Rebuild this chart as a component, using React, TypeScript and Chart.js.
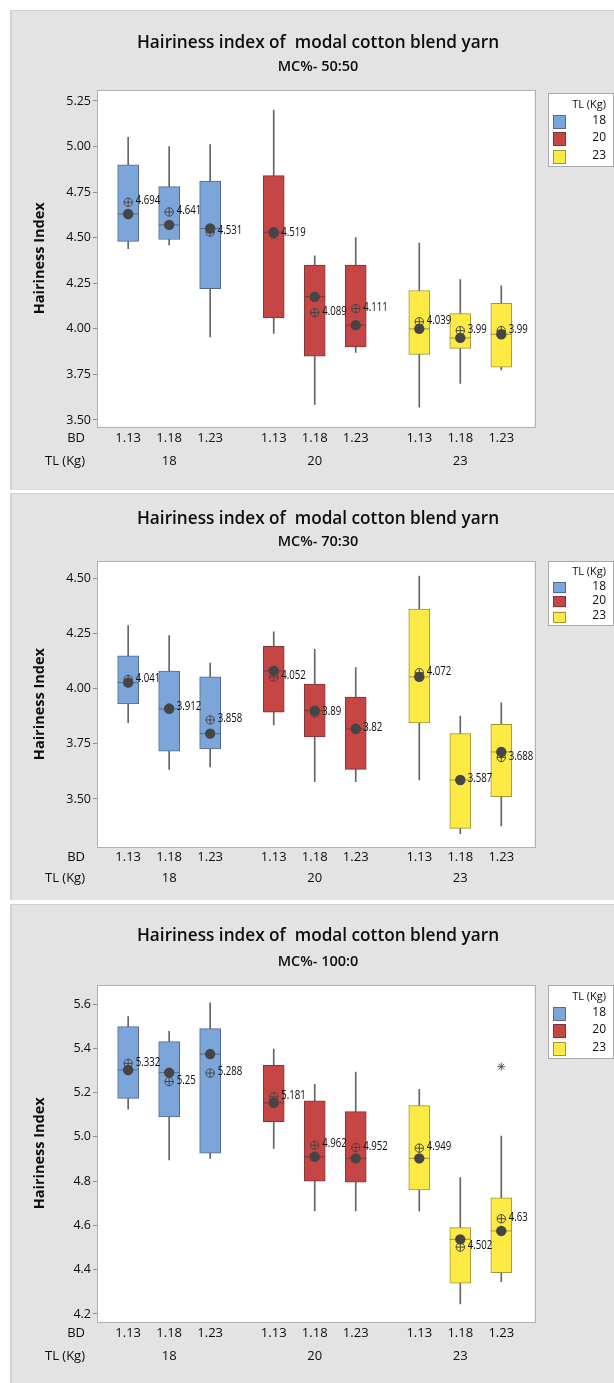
import React, { useEffect, useRef } from 'react';
import { Chart, registerables } from 'chart.js';

Chart.register(...registerables);

// ---------- shared categories ----------
const CHART_TITLE = 'Hairiness index of  modal cotton blend yarn';
const Y_TITLE = 'Hairiness Index';
const TL_LEVELS = ['18', '20', '23'];
const BD_LEVELS = ['1.13', '1.18', '1.23'];
const LEGEND_TITLE = 'TL (Kg)';

// cells ordered: TL18 (BD 1.13, 1.18, 1.23), TL20 (...), TL23 (...)

// ---------- MC%- 50:50 ----------
const mc5050WhiskerLow = [4.44, 4.46, 3.955, 3.975, 3.585, 3.87, 3.57, 3.7, 3.775];
const mc5050Q1 = [4.48, 4.49, 4.22, 4.06, 3.85, 3.9, 3.86, 3.893, 3.79];
const mc5050Median = [4.63, 4.57, 4.55, 4.53, 4.176, 4.02, 4.0, 3.95, 3.97];
const mc5050Q3 = [4.9, 4.78, 4.81, 4.84, 4.35, 4.35, 4.21, 4.083, 4.14];
const mc5050WhiskerHigh = [5.05, 5.0, 5.01, 5.2, 4.4, 4.5, 4.47, 4.27, 4.236];
const mc5050Mean = [4.694, 4.641, 4.531, 4.519, 4.089, 4.111, 4.039, 3.99, 3.99];
const mc5050OutlierCells: number[] = [];
const mc5050OutlierValues: number[] = [];
const mc5050YTicks = [3.5, 3.75, 4.0, 4.25, 4.5, 4.75, 5.0, 5.25];

// ---------- MC%- 70:30 ----------
const mc7030WhiskerLow = [3.846, 3.634, 3.645, 3.835, 3.578, 3.578, 3.586, 3.343, 3.378];
const mc7030Q1 = [3.93, 3.717, 3.727, 3.893, 3.781, 3.634, 3.844, 3.367, 3.51];
const mc7030Median = [4.027, 3.908, 3.796, 4.08, 3.9, 3.817, 4.053, 3.586, 3.713];
const mc7030Q3 = [4.148, 4.079, 4.053, 4.192, 4.02, 3.961, 4.36, 3.796, 3.838];
const mc7030WhiskerHigh = [4.285, 4.24, 4.116, 4.257, 4.178, 4.095, 4.51, 3.876, 3.936];
const mc7030Mean = [4.041, 3.912, 3.858, 4.052, 3.89, 3.82, 4.072, 3.587, 3.688];
const mc7030OutlierCells: number[] = [];
const mc7030OutlierValues: number[] = [];
const mc7030YTicks = [3.5, 3.75, 4.0, 4.25, 4.5];

// ---------- MC%- 100:0 ----------
const mc1000WhiskerLow = [5.125, 4.896, 4.903, 4.948, 4.665, 4.665, 4.665, 4.245, 4.346];
const mc1000Q1 = [5.174, 5.09, 4.926, 5.069, 4.8, 4.795, 4.76, 4.339, 4.387];
const mc1000Median = [5.302, 5.29, 5.374, 5.154, 4.91, 4.903, 4.903, 4.537, 4.575];
const mc1000Q3 = [5.498, 5.43, 5.489, 5.323, 5.163, 5.114, 5.141, 4.59, 4.725];
const mc1000WhiskerHigh = [5.543, 5.477, 5.606, 5.397, 5.237, 5.293, 5.215, 4.816, 5.004];
const mc1000Mean = [5.332, 5.25, 5.288, 5.181, 4.962, 4.952, 4.949, 4.502, 4.63];
const mc1000OutlierCells = [8];
const mc1000OutlierValues = [5.317];
const mc1000YTicks = [4.2, 4.4, 4.6, 4.8, 5.0, 5.2, 5.4, 5.6];

// ---------- styles ----------
const FONT = '"Open Sans", "Liberation Sans", sans-serif';
const TEXT = '#0d0d0d';
const GROUP_FILL = ['#7CA6D9', '#C64545', '#FEEA44'];
const GROUP_EDGE = ['#526B8C', '#7E3636', '#9E963C'];
const WHISKER = '#656565';
const DOT = '#454545';
const SYMBOL = '#474747';
const GROUP_GAP = 0.55;
const PANEL_W = 604;
const PLOT_LEFT = 87;
const PLOT_RIGHT = 524.5;
const TICK_FONT = 13;
const TITLE_X = 308;

type Layout = {
  top: number; height: number; plotTop: number; plotBottom: number;
  bdRowY: number; tlRowY: number; titleY: number; subtitleY: number;
  legendTop: number; legendBottom: number; legendTitleY: number; legendItemY: number[]; swatchH: number;
};

type PanelSpec = {
  subtitle: string;
  whiskerLow: number[]; q1: number[]; median: number[]; q3: number[]; whiskerHigh: number[]; mean: number[];
  outlierCells: number[]; outlierValues: number[];
  yTicks: number[]; yMin: number; yMax: number; decimals: number;
  layout: Layout;
};

const PANELS: PanelSpec[] = [
  {
    subtitle: 'MC%- 50:50',
    whiskerLow: mc5050WhiskerLow, q1: mc5050Q1, median: mc5050Median, q3: mc5050Q3,
    whiskerHigh: mc5050WhiskerHigh, mean: mc5050Mean,
    outlierCells: mc5050OutlierCells, outlierValues: mc5050OutlierValues,
    yTicks: mc5050YTicks, yMin: 3.463, yMax: 5.31, decimals: 2,
    layout: {
      top: 10, height: 480, plotTop: 80, plotBottom: 416.7, bdRowY: 428.3, tlRowY: 451.7,
      titleY: 32.7, subtitleY: 56.7, legendTop: 83, legendBottom: 156, legendTitleY: 94.7,
      legendItemY: [111, 128, 146], swatchH: 13.5,
    },
  },
  {
    subtitle: 'MC%- 70:30',
    whiskerLow: mc7030WhiskerLow, q1: mc7030Q1, median: mc7030Median, q3: mc7030Q3,
    whiskerHigh: mc7030WhiskerHigh, mean: mc7030Mean,
    outlierCells: mc7030OutlierCells, outlierValues: mc7030OutlierValues,
    yTicks: mc7030YTicks, yMin: 3.281, yMax: 4.578, decimals: 2,
    layout: {
      top: 493, height: 407, plotTop: 68, plotBottom: 354.3, bdRowY: 364.7, tlRowY: 385.3,
      titleY: 26.3, subtitleY: 48.7, legendTop: 68, legendBottom: 132, legendTitleY: 78.7,
      legendItemY: [93.7, 107.7, 123], swatchH: 11,
    },
  },
  {
    subtitle: 'MC%- 100:0',
    whiskerLow: mc1000WhiskerLow, q1: mc1000Q1, median: mc1000Median, q3: mc1000Q3,
    whiskerHigh: mc1000WhiskerHigh, mean: mc1000Mean,
    outlierCells: mc1000OutlierCells, outlierValues: mc1000OutlierValues,
    yTicks: mc1000YTicks, yMin: 4.165, yMax: 5.686, decimals: 1,
    layout: {
      top: 904, height: 479, plotTop: 81, plotBottom: 417.7, bdRowY: 429.3, tlRowY: 452,
      titleY: 32, subtitleY: 57.7, legendTop: 81, legendBottom: 154, legendTitleY: 92.7,
      legendItemY: [109, 126, 144], swatchH: 13.5,
    },
  },
];

function buildChart(canvas: HTMLCanvasElement, p: PanelSpec) {
  const n = BD_LEVELS.length;
  const L = p.layout;
  const xOf = (k: number) => Math.floor(k / n) * (n + GROUP_GAP) + (k % n);
  const groupOf = (k: number) => Math.floor(k / n);
  const cells = p.mean.map((_, k) => k);
  const xTicks = cells.map(xOf);
  const groupCenters = TL_LEVELS.map((_, g) => g * (n + GROUP_GAP) + (n - 1) / 2);
  const xMin = -0.76;
  const xMax = xTicks[xTicks.length - 1] + 0.81;
  const fill = cells.map((k) => GROUP_FILL[groupOf(k)]);
  const edge = cells.map((k) => GROUP_EDGE[groupOf(k)]);

  const lh = TICK_FONT * 1.2;
  const H1 = (L.bdRowY + L.tlRowY) / 2 - L.plotBottom;
  const pad1 = L.bdRowY - L.plotBottom - lh / 2;
  const pad2 = L.tlRowY - (L.plotBottom + H1) - lh / 2;
  const H2 = L.height - 4 - L.plotBottom - H1;

  const tickFont = { family: FONT, size: TICK_FONT };

  const decorPlugin = {
    id: 'decor',
    beforeDatasetsDraw(chart: any) {
      const { ctx, chartArea: a } = chart;
      ctx.save();
      ctx.fillStyle = '#ffffff';
      ctx.fillRect(a.left, a.top, a.right - a.left, a.bottom - a.top);
      ctx.strokeStyle = '#b2b2b2';
      ctx.lineWidth = 1;
      ctx.strokeRect(Math.round(a.left) + 0.5, Math.round(a.top) + 0.5,
        Math.round(a.right - a.left), Math.round(a.bottom - a.top));
      ctx.restore();
    },
    afterDatasetsDraw(chart: any) {
      const { ctx } = chart;
      const xs = chart.scales.x;
      const ys = chart.scales.y;
      ctx.save();
      ctx.fillStyle = TEXT;
      ctx.font = `13px ${FONT}`;
      ctx.textAlign = 'left';
      ctx.textBaseline = 'middle';
      p.mean.forEach((m, k) => {
        const px = xs.getPixelForValue(xOf(k));
        const py = ys.getPixelForValue(m);
        ctx.save();
        ctx.translate(px + 7.5, py - 1.5);
        ctx.scale(0.74, 1);
        ctx.fillText(String(m), 0, 0);
        ctx.restore();
      });
      ctx.restore();
    },
    afterDraw(chart: any) {
      const { ctx } = chart;
      ctx.save();
      ctx.fillStyle = TEXT;
      ctx.textAlign = 'center';
      ctx.textBaseline = 'middle';
      ctx.font = `600 17.2px ${FONT}`;
      ctx.fillText(CHART_TITLE, TITLE_X, L.titleY);
      ctx.font = `600 14.5px ${FONT}`;
      ctx.fillText(p.subtitle, TITLE_X, L.subtitleY);

      // axis row headers
      ctx.font = `${TICK_FONT}px ${FONT}`;
      ctx.textAlign = 'right';
      ctx.fillText('BD', 75, L.bdRowY);
      ctx.fillText('TL (Kg)', 75, L.tlRowY);

      // legend
      const lx = 538.5;
      const lw = 65;
      ctx.fillStyle = '#ffffff';
      ctx.fillRect(lx, L.legendTop + 0.5, lw, L.legendBottom - L.legendTop);
      ctx.strokeStyle = '#a9a9a9';
      ctx.lineWidth = 1;
      ctx.strokeRect(lx, L.legendTop + 0.5, lw, L.legendBottom - L.legendTop);
      ctx.fillStyle = TEXT;
      ctx.font = `11px ${FONT}`;
      ctx.textAlign = 'right';
      ctx.fillText(LEGEND_TITLE, 596, L.legendTitleY);
      TL_LEVELS.forEach((lvl, g) => {
        const cy = L.legendItemY[g];
        ctx.fillStyle = GROUP_FILL[g];
        ctx.fillRect(543, cy - L.swatchH / 2 + 1, 13, L.swatchH);
        ctx.strokeStyle = GROUP_EDGE[g];
        ctx.strokeRect(543.5, Math.round(cy - L.swatchH / 2 + 1) + 0.5, 12, Math.round(L.swatchH) - 1);
        ctx.fillStyle = TEXT;
        ctx.font = `12px ${FONT}`;
        ctx.fillText(lvl, 596, cy);
      });
      ctx.restore();
    },
  };

  const means = cells.map((k) => ({ x: xOf(k), y: p.mean[k] }));
  const medians = cells.map((k) => ({ x: xOf(k), y: p.median[k] }));

  return new Chart(canvas, {
    type: 'bar',
    data: {
      datasets: [
        {
          type: 'bar', label: 'whisker',
          data: cells.map((k) => ({ x: xOf(k), y: [p.whiskerLow[k], p.whiskerHigh[k]] })),
          backgroundColor: WHISKER, borderWidth: 0, barThickness: 1, grouped: false, order: 10,
        } as any,
        {
          type: 'bar', label: 'box',
          data: cells.map((k) => ({ x: xOf(k), y: [p.q1[k], p.q3[k]] })),
          backgroundColor: fill, borderColor: edge, borderWidth: 1, borderSkipped: false,
          barThickness: 21, grouped: false, order: 9,
        } as any,
        {
          type: 'scatter', label: 'median',
          data: medians, pointStyle: 'line', pointRadius: 10.5,
          pointBorderColor: edge, pointBorderWidth: 1, order: 8,
        } as any,
        {
          type: 'scatter', label: 'mean',
          data: means, pointStyle: 'circle', pointRadius: 4.2,
          pointBackgroundColor: 'rgba(0,0,0,0)', pointBorderColor: SYMBOL, pointBorderWidth: 1, order: 7,
        } as any,
        {
          type: 'scatter', label: 'mean cross',
          data: means, pointStyle: 'cross', pointRadius: 4.2,
          pointBorderColor: SYMBOL, pointBorderWidth: 1, order: 7,
        } as any,
        {
          type: 'scatter', label: 'median dot',
          data: medians, pointStyle: 'circle', pointRadius: 5.2,
          pointBackgroundColor: DOT, pointBorderWidth: 0, order: 6,
        } as any,
        {
          type: 'scatter', label: 'outlier',
          data: p.outlierCells.map((k, i) => ({ x: xOf(k), y: p.outlierValues[i] })),
          pointStyle: 'star', pointRadius: 4, pointBorderColor: '#5a5a5a', pointBorderWidth: 1, order: 5,
        } as any,
      ],
    },
    options: {
      responsive: false,
      animation: false,
      events: [],
      layout: { padding: { left: 12, right: PANEL_W - PLOT_RIGHT, top: L.plotTop, bottom: 4 } },
      plugins: { legend: { display: false }, tooltip: { enabled: false }, title: { display: false } },
      scales: {
        x: {
          type: 'linear', position: 'bottom', weight: 0, min: xMin, max: xMax, offset: false,
          grid: { display: false, drawTicks: false, offset: false }, border: { display: false },
          afterBuildTicks: (s: any) => { s.ticks = xTicks.map((v) => ({ value: v })); },
          afterFit: (s: any) => { s.height = H1; },
          ticks: {
            autoSkip: false, maxRotation: 0, minRotation: 0, padding: pad1, font: tickFont, color: TEXT,
            callback: (_v: any, i: number) => BD_LEVELS[i % n],
          },
        },
        x2: {
          type: 'linear', position: 'bottom', weight: 1, min: xMin, max: xMax, offset: false,
          grid: { display: false, drawTicks: false, offset: false }, border: { display: false },
          afterBuildTicks: (s: any) => { s.ticks = groupCenters.map((v) => ({ value: v })); },
          afterFit: (s: any) => { s.height = H2; },
          ticks: {
            autoSkip: false, maxRotation: 0, minRotation: 0, padding: pad2, font: tickFont, color: TEXT,
            callback: (_v: any, i: number) => TL_LEVELS[i],
          },
        },
        y: {
          type: 'linear', position: 'left', min: p.yMin, max: p.yMax, beginAtZero: false,
          afterBuildTicks: (s: any) => { s.ticks = p.yTicks.map((v) => ({ value: v })); },
          afterFit: (s: any) => { s.width = PLOT_LEFT - 12; },
          ticks: {
            padding: 2, font: { family: FONT, size: 12.5 }, color: TEXT,
            callback: (v: any) => Number(v).toFixed(p.decimals),
          },
          grid: { display: true, drawOnChartArea: false, drawTicks: true, tickLength: 4, color: '#8e8e8e' },
          border: { display: false },
          title: {
            display: true, text: Y_TITLE, color: TEXT,
            font: { family: FONT, size: 14.5, weight: 'bold' },
            padding: { top: 8.8, bottom: 0 },
          },
        },
      },
    } as any,
    plugins: [decorPlugin],
  });
}

function Panel({ spec }: { spec: PanelSpec }) {
  const ref = useRef<HTMLCanvasElement>(null);
  useEffect(() => {
    if (!ref.current) return;
    const chart = buildChart(ref.current, spec);
    return () => chart.destroy();
  }, [spec]);
  const h = spec.layout.height;
  return (
    <div
      style={{
        position: 'absolute', left: 10, top: spec.layout.top, width: PANEL_W, height: h,
        background: '#e3e3e3', boxShadow: 'inset 2px 1px 0 #d2d2d2',
      }}
    >
      <canvas ref={ref} width={PANEL_W} height={h} style={{ display: 'block', width: PANEL_W, height: h }} />
    </div>
  );
}

export default function App() {
  return (
    <div style={{ position: 'absolute', left: 0, top: 0, width: 614, height: 1383, background: '#ffffff', overflow: 'hidden' }}>
      {PANELS.map((p) => (
        <Panel key={p.subtitle} spec={p} />
      ))}
    </div>
  );
}
